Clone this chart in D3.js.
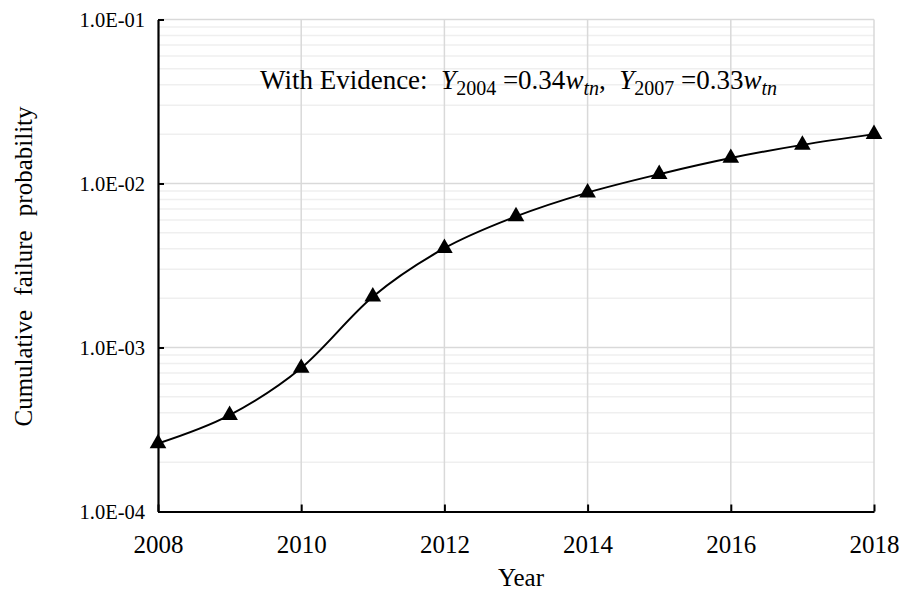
<!DOCTYPE html>
<html>
<head>
<meta charset="utf-8">
<script src="https://cdn.jsdelivr.net/npm/d3@7/dist/d3.min.js"></script>
<style>
  body { margin: 0; background: #fff; }
  svg text { font-family: "Liberation Serif", "Times New Roman", Times, serif !important; fill: #000; }
</style>
</head>
<body>
<script>
var w = 908;
var h = 597;
var serif = "'Liberation Serif', 'Times New Roman', Times, serif";

// data
var years = [2008, 2009, 2010, 2011, 2012, 2013, 2014, 2015, 2016, 2017, 2018];
var probability = [2.6e-4, 3.87e-4, 7.5e-4, 2.04e-3, 4.03e-3, 6.3e-3, 8.8e-3, 1.14e-2, 1.43e-2, 1.72e-2, 2.0e-2];
var xTicks = [2008, 2010, 2012, 2014, 2016, 2018];
var yTicks = [1e-4, 1e-3, 1e-2, 1e-1];
var yTickLabels = ["1.0E-04", "1.0E-03", "1.0E-02", "1.0E-01"];

var margin = {top: 19.5, right: 34, bottom: 85.5, left: 158},
    width = w - margin.left - margin.right,
    height = h - margin.top - margin.bottom;

var x = d3.scaleLinear()
    .domain([2008, 2018])
    .range([0, width]);

var y = d3.scaleLog()
    .domain([1e-4, 1e-1])
    .range([height, 0]);

var svg = d3.select("body").append("svg")
    .attr("width", w)
    .attr("height", h)
    .attr("font-family", serif);

var chart = svg.append("g")
    .attr("transform", "translate(" + margin.left + "," + margin.top + ")");

// minor horizontal gridlines (2..9 in every decade)
var minor = [];
for (var d = -4; d < -1; d++) {
    for (var m = 2; m <= 9; m++) minor.push(m * Math.pow(10, d));
}
chart.append("g").selectAll("line")
    .data(minor)
    .enter().append("line")
    .attr("x1", 0).attr("x2", width)
    .attr("y1", function(d) { return y(d); })
    .attr("y2", function(d) { return y(d); })
    .attr("stroke", "#efefef")
    .attr("stroke-width", 1.5);

// major gridlines
chart.append("g").selectAll("line")
    .data(yTicks.slice(1))
    .enter().append("line")
    .attr("x1", 0).attr("x2", width)
    .attr("y1", function(d) { return y(d); })
    .attr("y2", function(d) { return y(d); })
    .attr("stroke", "#d9d9d9")
    .attr("stroke-width", 1.5);

chart.append("g").selectAll("line")
    .data(xTicks.slice(1))
    .enter().append("line")
    .attr("x1", function(d) { return x(d); })
    .attr("x2", function(d) { return x(d); })
    .attr("y1", 0).attr("y2", height)
    .attr("stroke", "#d9d9d9")
    .attr("stroke-width", 1.5);

// axes, ticks inside
var yAxis = chart.append("g")
    .call(d3.axisLeft(y).tickValues(yTicks).tickSizeInner(-6).tickSizeOuter(0)
        .tickPadding(13)
        .tickFormat(function(d, i) { return yTickLabels[i]; }));
yAxis.attr("font-family", serif).attr("font-size", 20.5);
yAxis.select(".domain").attr("stroke-width", 2.2);
yAxis.selectAll(".tick line").attr("stroke-width", 2);

var xAxis = chart.append("g")
    .attr("transform", "translate(0," + height + ")")
    .call(d3.axisBottom(x).tickValues(xTicks).tickSizeInner(-7).tickSizeOuter(0)
        .tickPadding(24)
        .tickFormat(d3.format("d")));
xAxis.attr("font-family", serif).attr("font-size", 25);
xAxis.select(".domain").attr("stroke-width", 2.2);
xAxis.selectAll(".tick line").attr("stroke-width", 2);

// smoothed line
var line = d3.line()
    .x(function(d, i) { return x(years[i]); })
    .y(function(d) { return y(d); })
    .curve(d3.curveCardinal.tension(0));

chart.append("path")
    .datum(probability)
    .attr("d", line)
    .attr("fill", "none")
    .attr("stroke", "#000")
    .attr("stroke-width", 2);

chart.selectAll(".marker")
    .data(probability)
    .enter().append("path")
    .attr("class", "marker")
    .attr("d", d3.symbol().type(d3.symbolTriangle).size(120))
    .attr("transform", function(d, i) { return "translate(" + x(years[i]) + "," + y(d) + ")"; })
    .attr("fill", "#000");

// annotation
var note = svg.append("text")
    .attr("x", 260)
    .attr("y", 89)
    .attr("font-size", 27);
function part(txt, italic, sub) {
    var t = note.append("tspan").text(txt);
    if (italic) t.attr("font-style", "italic");
    if (sub === 1) t.attr("dy", 6).attr("font-size", 20);
    if (sub === -1) t.attr("dy", -6);
    return t;
}
part("With Evidence:\u00a0 ");
part("Y", true);
part("2004", false, 1);
part("\u00a0=0.34", false, -1);
part("w", true);
part("tn", true, 1);
part(",\u00a0 ", false, -1);
part("Y", true);
part("2007", false, 1);
part("\u00a0=0.33", false, -1);
part("w", true);
part("tn", true, 1);

// axis titles
svg.append("text")
    .attr("x", margin.left + width / 2 + 5)
    .attr("y", 586)
    .attr("text-anchor", "middle")
    .attr("font-size", 25)
    .text("Year");

svg.append("text")
    .attr("transform", "translate(32," + (margin.top + height / 2 + 1) + ") rotate(-90)")
    .attr("text-anchor", "middle")
    .attr("font-size", 25)
    .style("word-spacing", "8px")
    .text("Cumulative failure probability");
</script>
</body>
</html>
